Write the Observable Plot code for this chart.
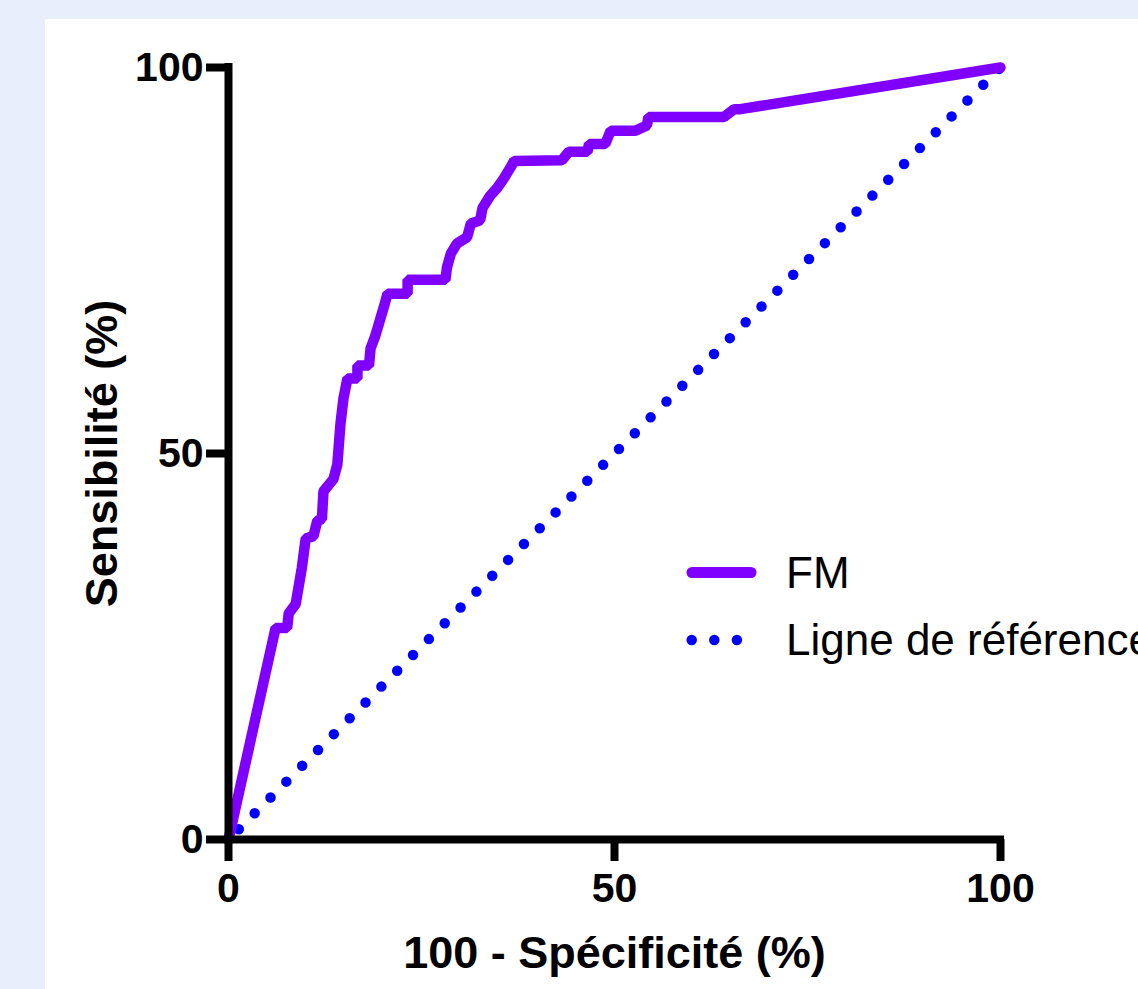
<!DOCTYPE html>
<html>
<head>
<meta charset="utf-8">
<script src="https://cdn.jsdelivr.net/npm/d3@7"></script>
<script src="https://cdn.jsdelivr.net/npm/@observablehq/plot@0.6"></script>
<style>
  html, body { margin: 0; padding: 0; background: #e8eefc; overflow: hidden; }
  #wrap { position: relative; width: 1138px; height: 989px; overflow: hidden; }
  #panel { position: absolute; left: 45px; top: 19px; right: 0; bottom: 0; background: #ffffff; }
  #chart { position: absolute; left: 0; top: 0; }
  #legend { position: absolute; left: 0; top: 0; }
</style>
</head>
<body>
<div id="wrap">
  <div id="panel"></div>
  <div id="chart"></div>
  <svg id="legend" width="1138" height="989" xmlns="http://www.w3.org/2000/svg"></svg>
</div>
<script>
// ROC curve "FM": 100 - specificity (x) and sensitivity (y), in %
const fpr = [0, 6.1, 7.6, 7.8, 8.7, 9.5, 10.0, 11.0, 11.5, 12.1,
             12.3, 13.6, 14.1, 14.5, 14.9, 15.4, 16.7, 16.7, 18.2, 18.4,
             19.0, 20.1, 20.6, 23.2, 23.2, 28.1, 28.3, 28.8, 29.6, 30.9,
             31.4, 32.6, 32.9, 33.9, 34.8, 35.7, 36.5, 37.0, 43.2, 44.1,
             46.5, 46.7, 48.8, 49.5, 52.7, 54.2, 54.4, 64.2, 65.5, 66.3,
             100];
const tpr = [0, 27.4, 27.4, 29.3, 30.5, 35.2, 39.0, 39.3, 41.3, 41.5,
             45.1, 46.7, 48.6, 53.8, 57.2, 59.7, 59.7, 61.4, 61.4, 63.6,
             65.2, 68.9, 70.7, 70.7, 72.5, 72.5, 74.1, 75.9, 77.2, 78.0,
             79.8, 80.2, 81.8, 83.4, 84.4, 85.7, 87.0, 87.9, 88.0, 89.1,
             89.1, 90.1, 90.1, 91.8, 91.8, 92.5, 93.6, 93.6, 94.6, 94.6,
             100];
// Reference line (chance diagonal)
const refX = [0, 100];
const refY = [0, 100];
// Axis ticks
const xTicks = [0, 50, 100];
const yTicks = [0, 50, 100];
// Texts
const xTitle = "100 - Spécificité (%)";
const yTitle = "Sensibilité (%)";
const seriesNames = ["FM", "Ligne de référence"];
const seriesColors = ["#7f00ff", "#0000ff"];

const roc = fpr.map((x, i) => ({x, y: tpr[i]}));
const ref = refX.map((x, i) => ({x, y: refY[i]}));

const font = "'Liberation Sans', Arial, Helvetica, sans-serif";

const chart = Plot.plot({
  width: 1138,
  height: 989,
  marginLeft: 228,
  marginRight: 138,
  marginTop: 67,
  marginBottom: 150,
  style: { background: "transparent", fontFamily: font, color: "#000" },
  x: { domain: [0, 100] },
  y: { domain: [0, 100] },
  marks: [
    Plot.line(ref, { x: "x", y: "y", stroke: seriesColors[1], strokeWidth: 10.5,
      strokeLinecap: "round", strokeDasharray: "0 22.4", strokeDashoffset: 7.8 }),
    Plot.line(roc, { x: "x", y: "y", stroke: seriesColors[0], strokeWidth: 10.5,
      strokeLinecap: "round", strokeLinejoin: "miter" }),
    Plot.ruleY([0], { stroke: "#000", strokeWidth: 8, strokeLinecap: "square" }),
    Plot.ruleX([0], { stroke: "#000", strokeWidth: 8, strokeLinecap: "square" }),
    Plot.axisX({ ticks: xTicks, tickSize: 22, tickPadding: 11, strokeWidth: 8,
      fontSize: 41, fontWeight: "bold", fontFamily: font, label: null }),
    Plot.axisY({ ticks: yTicks, tickSize: 22, tickPadding: 3, strokeWidth: 8,
      fontSize: 41, fontWeight: "bold", fontFamily: font, label: null }),
    Plot.text([xTitle], { frameAnchor: "bottom", lineAnchor: "bottom", dy: 128,
      fontSize: 45, fontWeight: "bold", fontFamily: font, fill: "#000" }),
    Plot.text([yTitle], { frameAnchor: "left", textAnchor: "middle", lineAnchor: "bottom",
      rotate: -90, dx: -112,
      fontSize: 45, fontWeight: "bold", fontFamily: font, fill: "#000" })
  ]
});
document.getElementById("chart").appendChild(chart);

// Legend
const ns = "http://www.w3.org/2000/svg";
const lg = document.getElementById("legend");
function el(tag, attrs, text) {
  const e = document.createElementNS(ns, tag);
  for (const k in attrs) e.setAttribute(k, attrs[k]);
  if (text) e.textContent = text;
  lg.appendChild(e);
  return e;
}
el("line", { x1: 692, y1: 572.5, x2: 751, y2: 572.5, stroke: seriesColors[0],
  "stroke-width": 11, "stroke-linecap": "round" });
el("line", { x1: 691.7, y1: 640, x2: 737, y2: 640, stroke: seriesColors[1],
  "stroke-width": 10.5, "stroke-linecap": "round", "stroke-dasharray": "0 22.6" });
el("text", { x: 786, y: 588, "font-family": font, "font-size": 44, fill: "#000" }, seriesNames[0]);
el("text", { x: 786, y: 655, "font-family": font, "font-size": 44, fill: "#000" }, seriesNames[1]);
</script>
</body>
</html>
